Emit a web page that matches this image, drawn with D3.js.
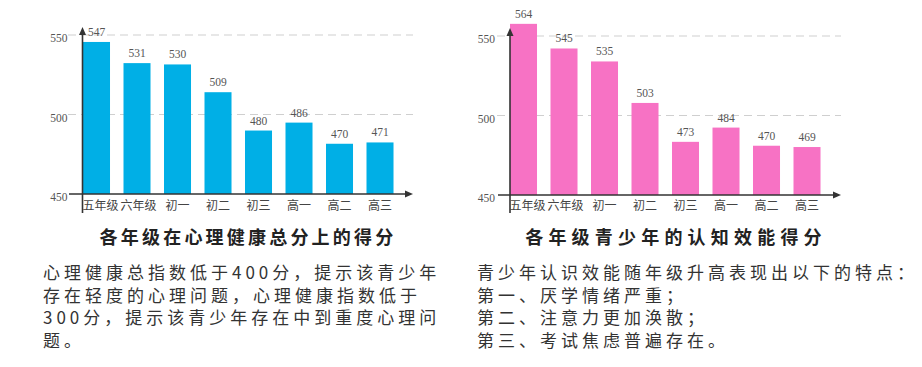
<!DOCTYPE html>
<html><head><meta charset="utf-8">
<script src="https://cdn.jsdelivr.net/npm/d3@7"></script>
<style>
html,body{margin:0;padding:0;background:#fff;}
svg{display:block;}
</style></head>
<body>
<svg id="chart" width="922" height="367"></svg>
<script>
// ---- data ----
const categories = ["五年级","六年级","初一","初二","初三","高一","高二","高三"];
const mentalScores = [547,531,530,509,480,486,470,471];
const cognitiveScores = [564,545,535,503,473,484,470,469];
const yTicks = [450,500,550];
const gridTicks = [500,550];
const mentalTitle = "各年级在心理健康总分上的得分";
const cognitiveTitle = "各年级青少年的认知效能得分";
const mentalNote = [
  "心理健康总指数低于400分，提示该青少年",
  "存在轻度的心理问题，心理健康指数低于",
  "300分，提示该青少年存在中到重度心理问",
  "题。"
];
const cognitiveNote = [
  "青少年认识效能随年级升高表现出以下的特点：",
  "第一、厌学情绪严重；",
  "第二、注意力更加涣散；",
  "第三、考试焦虑普遍存在。"
];

const svg = d3.select("#chart");
const cjk = "'Noto Sans CJK SC','Noto Sans',sans-serif";
const serif = "'Liberation Serif','DejaVu Serif',serif";

// The source chart's bars are not drawn to its printed axis: the bars rise from
// roughly 432 while the baseline is labelled 450. Two scales reproduce that.
function panel(cfg){
  const g = svg.append("g");
  const yAxis = d3.scaleLinear().domain([450,550]).range([cfg.base, cfg.top550]);
  const yBar = d3.scaleLinear().domain([432,550]).range([cfg.base, cfg.barTop550]);
  const x = d3.scaleBand().domain(categories)
      .range([cfg.x0, cfg.x0 + 40.5*(categories.length-0.333)])
      .paddingInner(0.333).paddingOuter(0);

  // gridlines
  g.selectAll(".grid").data(gridTicks).join("line")
    .attr("x1", cfg.gridX0).attr("x2", cfg.axisEnd)
    .attr("y1", d=>yAxis(d)).attr("y2", d=>yAxis(d))
    .attr("stroke","#cfcfcf").attr("stroke-width",1.2)
    .attr("stroke-dasharray","8,5");

  // bars
  g.selectAll(".bar").data(cfg.values).join("rect")
    .attr("x",(d,i)=>x(categories[i]))
    .attr("width",x.bandwidth())
    .attr("y",d=>yBar(d))
    .attr("height",d=>cfg.base - yBar(d))
    .attr("fill",cfg.color);

  // value labels
  g.selectAll(".val").data(cfg.values).join("text")
    .attr("x",(d,i)=>x(categories[i])+x.bandwidth()/2)
    .attr("y",d=>yBar(d)-6)
    .attr("text-anchor","middle")
    .attr("font-family",serif).attr("font-size","11.5px").attr("fill","#555")
    .text(d=>d);

  // y tick labels
  g.selectAll(".tick").data(yTicks).join("text")
    .attr("x", cfg.yAxisX - 15)
    .attr("y", d=>yAxis(d)+7)
    .attr("text-anchor","end")
    .attr("font-family",serif).attr("font-size","11.5px").attr("fill","#555")
    .text(d=>d);

  // axes
  g.append("line").attr("x1",cfg.gridX0+1).attr("x2",cfg.axisEnd-6)
    .attr("y1",cfg.base).attr("y2",cfg.base)
    .attr("stroke","#333").attr("stroke-width",1.6);
  g.append("path")
    .attr("d",`M${cfg.axisEnd},${cfg.base} L${cfg.axisEnd-8},${cfg.base-3.5} L${cfg.axisEnd-8},${cfg.base+3.5} Z`)
    .attr("fill","#333");
  g.append("line").attr("x1",cfg.yAxisX).attr("x2",cfg.yAxisX)
    .attr("y1",cfg.axisTop+6).attr("y2",213)
    .attr("stroke","#333").attr("stroke-width",1.6);
  g.append("path")
    .attr("d",`M${cfg.yAxisX},${cfg.axisTop} L${cfg.yAxisX-3.5},${cfg.axisTop+8} L${cfg.yAxisX+3.5},${cfg.axisTop+8} Z`)
    .attr("fill","#333");

  // category labels
  g.selectAll(".cat").data(categories).join("text")
    .attr("x",(d,i)=>x(d)+x.bandwidth()/2 + (i===0?4:(i===1?1.5:0)))
    .attr("y",209.5)
    .attr("text-anchor","middle")
    .attr("font-family",cjk).attr("font-size","12px").attr("fill","#444")
    .text(d=>d);

  // title
  g.append("text")
    .attr("x",cfg.titleX).attr("y",244)
    .attr("text-anchor","middle")
    .attr("font-family",cjk).attr("font-size","18px").attr("font-weight","bold")
    .attr("letter-spacing",cfg.titleLs+"px")
    .attr("fill","#222")
    .text(cfg.title);

  // note
  g.selectAll(".note").data(cfg.note).join("text")
    .attr("x",cfg.noteX)
    .attr("y",(d,i)=>279 + i*22.7)
    .attr("font-family",cjk).attr("font-size","17px")
    .attr("letter-spacing","4px")
    .attr("fill","#333")
    .text(d=>d);
}

panel({values:mentalScores, color:"#00afe6", x0:83, yAxisX:82.5, base:194, top550:35,
  barTop550:38, gridX0:68, axisEnd:413, axisTop:27,
  title:mentalTitle, titleX:248, titleLs:3.2, note:mentalNote, noteX:43});
panel({values:cognitiveScores, color:"#f772c4", x0:510, yAxisX:510, base:195, top550:36,
  barTop550:42, gridX0:497, axisEnd:841, axisTop:28,
  title:cognitiveTitle, titleX:676, titleLs:5.2, note:cognitiveNote, noteX:477});
</script>
</body></html>
